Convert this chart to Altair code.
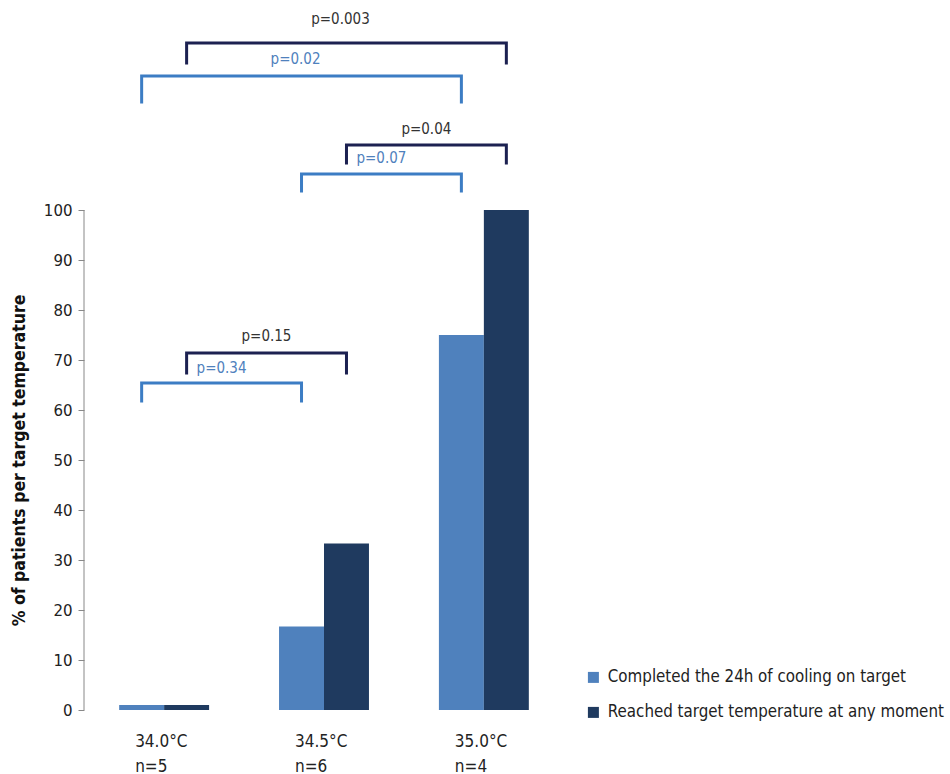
import altair as alt
import pandas as pd

# ---- data ----
temps = ["34.0°C", "34.5°C", "35.0°C"]
n_patients = [5, 6, 4]
series = ["Completed the 24h of cooling on target",
          "Reached target temperature at any moment"]
completed = [1, 16.7, 75]
reached = [1, 33.3, 100]

# significance brackets
br_series = [1, 0, 1, 0, 1, 0]            # index into series
br_from = [0, 0, 1, 1, 0, 0]              # index into temps
br_to = [2, 2, 2, 2, 1, 1]
br_top = [133.4, 126.8, 113.0, 107.2, 71.4, 65.4]
br_leg = [129.4, 121.6, 109.4, 103.8, 67.4, 61.8]
br_label = ["p=0.003", "p=0.02", "p=0.04", "p=0.07", "p=0.15", "p=0.34"]
br_label_y = [138.2, 130.2, 116.2, 110.4, 74.8, 68.4]

cats = [f"{t}|n={n}" for t, n in zip(temps, n_patients)]

bars = pd.DataFrame({
    "cat": cats * 2,
    "series": [series[0]] * 3 + [series[1]] * 3,
    "value": completed + reached,
})

line_rows = []
text_rows = []
for i in range(len(br_label)):
    s = series[br_series[i]]
    a, b = cats[br_from[i]], cats[br_to[i]]
    pts = [(a, br_leg[i]), (a, br_top[i]), (b, br_top[i]), (b, br_leg[i])]
    for k, (c, y) in enumerate(pts):
        line_rows.append({"id": i, "ord": k, "cat": c, "series": s, "y": y})
    span = br_to[i] - br_from[i]
    text_rows.append({
        "cat": cats[br_from[i] + 1] if span == 2 else cats[br_to[i]],
        "series": s, "label": br_label[i], "y": br_label_y[i], "span": span,
    })
lines = pd.DataFrame(line_rows)
texts = pd.DataFrame(text_rows)

LIGHT = "#4F81BD"
DARK = "#1F3A5F"
FONT = "DejaVu Sans Condensed"

x_scale = alt.Scale(domain=cats, paddingInner=0.4375, paddingOuter=0.22)
off_scale = alt.Scale(domain=series)
y_scale = alt.Scale(domain=[0, 140], nice=False)

x_enc = alt.X("cat:N", scale=x_scale, sort=cats, title=None,
              axis=alt.Axis(labelExpr="split(datum.label, '|')", domain=False,
                            ticks=False, labelAngle=0, labelAlign="left",
                            labelOffset=-29, labelPadding=23, labelLineHeight=25,
                            labelFont=FONT, labelFontSize=17, labelColor="#222"))
xo_enc = alt.XOffset("series:N", scale=off_scale, sort=series)

bar_layer = alt.Chart(bars).mark_bar().encode(
    x=x_enc,
    xOffset=xo_enc,
    y=alt.Y("value:Q", scale=y_scale,
            axis=alt.Axis(values=list(range(0, 101, 10)), domain=False, grid=False,
                          tickColor="#888", tickSize=6, labelFont="DejaVu Sans",
                          labelFontSize=15, labelColor="#222", labelPadding=6,
                          title="% of patients per target temperature",
                          titleFont=FONT, titleFontSize=17.5, titleFontWeight="bold",
                          titleColor="#111", titleY=450, titleX=-56)),
    color=alt.Color("series:N", sort=series,
                    scale=alt.Scale(domain=series, range=[LIGHT, DARK]),
                    legend=alt.Legend(title=None, orient="none", legendX=501, legendY=659,
                                      symbolType="square", symbolSize=121,
                                      symbolStrokeWidth=0, labelFont=FONT,
                                      labelFontSize=16.8, labelColor="#222",
                                      labelOffset=6, rowPadding=17, labelLimit=400)),
)

axis_line = alt.Chart(pd.DataFrame({"a": [0], "b": [100]})).mark_rule(
    color="#888", strokeWidth=1).encode(
    x=alt.value(0), y=alt.Y("a:Q", scale=y_scale), y2="b:Q")

line_layer = alt.Chart(lines).mark_line(strokeWidth=3, strokeCap="square").encode(
    x=alt.X("cat:N", scale=x_scale, sort=cats),
    xOffset=xo_enc,
    y=alt.Y("y:Q", scale=y_scale),
    detail="id:N",
    order="ord:Q",
    stroke=alt.Stroke("series:N", sort=series,
                      scale=alt.Scale(domain=series, range=["#3C7DC4", "#1C2151"]),
                      legend=None),
)

def text_layer(span, dx):
    return alt.Chart(texts).transform_filter(alt.datum.span == span).mark_text(
        font=FONT, fontSize=15, dx=dx).encode(
        x=alt.X("cat:N", scale=x_scale, sort=cats),
        xOffset=xo_enc,
        y=alt.Y("y:Q", scale=y_scale),
        text="label:N",
        fill=alt.Fill("series:N", sort=series,
                      scale=alt.Scale(domain=series, range=[LIGHT, "#333333"]),
                      legend=None),
    )

chart = alt.layer(axis_line, bar_layer, line_layer, text_layer(2, -6), text_layer(1, -80)).properties(
    width=480, height=700,
    autosize=alt.AutoSizeParams(type="none"),
    padding={"left": 84, "top": 10, "right": 386, "bottom": 64},
    background="white",
).configure_view(strokeWidth=0)

chart.save("out.html", embed_options={"renderer": "svg", "actions": False})
